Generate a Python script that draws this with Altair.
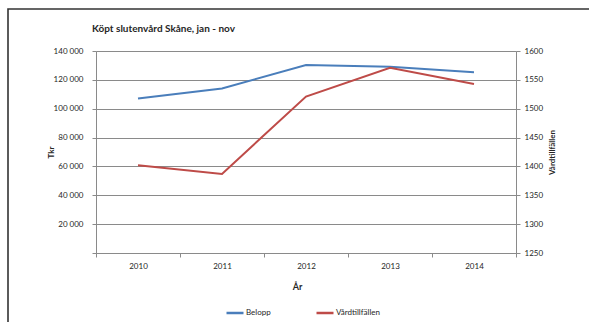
import altair as alt
import pandas as pd

# Köpt slutenvård Skåne, jan - nov: cost (Tkr) and number of care episodes per year
years = ["2010", "2011", "2012", "2013", "2014"]
belopp = [107000, 114000, 130300, 129100, 125200]
vardtillfallen = [1402, 1387, 1521, 1571, 1543]

series_names = ["Belopp", "Vårdtillfällen"]
series_colors = ["#4A7EBB", "#BE4B48"]

left_ticks = [0, 20000, 40000, 60000, 80000, 100000, 120000, 140000]
right_ticks = [1250, 1300, 1350, 1400, 1450, 1500, 1550, 1600]

df_belopp = pd.DataFrame({"År": years, "värde": belopp, "serie": series_names[0]})
df_vard = pd.DataFrame({"År": years, "värde": vardtillfallen, "serie": series_names[1]})

FONT = "Lato"
GRID = "#8A8A8A"
TEXT = "#262626"

color = alt.Color(
    "serie:N",
    scale=alt.Scale(domain=series_names, range=series_colors),
    legend=alt.Legend(
        title=None,
        orient="none",
        direction="horizontal",
        legendX=129,
        legendY=252,
        symbolType="stroke",
        symbolSize=289,
        symbolStrokeWidth=2.5,
        labelOffset=1,
        columnPadding=40,
        labelFont=FONT,
        labelFontSize=8,
        labelColor=TEXT,
    ),
)

x_enc = alt.X(
    "År:O",
    sort=years,
    scale=alt.Scale(type="band", paddingInner=0, paddingOuter=0),
    axis=alt.Axis(
        title="År",
        titleFont=FONT,
        titleFontSize=9,
        titleFontWeight="bold",
        titleColor=TEXT,
        titleX=201,
        titleY=33,
        titleAlign="center",
        titleBaseline="middle",
        labelAngle=0,
        labelFont=FONT,
        labelFontSize=8,
        labelColor=TEXT,
        labelPadding=5,
        tickBand="extent",
        tickSize=4,
        tickColor=GRID,
        domainColor=GRID,
        grid=False,
    ),
)

line_belopp = alt.Chart(df_belopp).mark_line(strokeWidth=2).encode(
    x=x_enc,
    y=alt.Y(
        "värde:Q",
        scale=alt.Scale(domain=[0, 140000], nice=False, zero=True),
        axis=alt.Axis(
            title="Tkr",
            titleFont=FONT,
            titleFontSize=8,
            titleFontWeight="bold",
            titleColor=TEXT,
            titleAngle=270,
            titleX=-45,
            titleY=101,
            titleAlign="center",
            titleBaseline="middle",
            values=left_ticks,
            labelExpr="datum.value == 0 ? '' : replace(format(datum.value, ',d'), ',', ' ')",
            labelFont=FONT,
            labelFontSize=8,
            labelColor=TEXT,
            labelPadding=9,
            tickSize=4,
            tickColor=GRID,
            domainColor=GRID,
            grid=True,
            gridColor=GRID,
            gridWidth=1,
        ),
    ),
    color=color,
)

line_vard = alt.Chart(df_vard).mark_line(strokeWidth=2).encode(
    x=x_enc,
    y=alt.Y(
        "värde:Q",
        scale=alt.Scale(domain=[1250, 1600], nice=False, zero=False),
        axis=alt.Axis(
            orient="right",
            title="Vårdtillfällen",
            titleFont=FONT,
            titleFontSize=8,
            titleFontWeight="bold",
            titleColor=TEXT,
            titleAngle=270,
            titleX=36,
            titleY=101,
            titleAlign="center",
            titleBaseline="middle",
            values=right_ticks,
            format="d",
            labelFont=FONT,
            labelFontSize=8,
            labelColor=TEXT,
            labelPadding=4,
            tickSize=4,
            tickColor=GRID,
            domainColor=GRID,
            grid=False,
        ),
    ),
    color=color,
)

# outer chart frame (top and left edges visible)
frame = alt.Chart(alt.Data(values=[{}])).mark_rect(
    fill=None, stroke="#333333", strokeWidth=1.6
).encode(
    x=alt.value(-88),
    y=alt.value(-42),
    x2=alt.value(560),
    y2=alt.value(320),
)

chart = (
    alt.layer(frame, line_belopp, line_vard)
    .resolve_scale(y="independent")
    .properties(
        width=420,
        height=202,
        autosize=alt.AutoSizeParams(type="none"),
        padding={"left": 96, "top": 51, "right": 73, "bottom": 69},
        title=alt.TitleParams(
            text="Köpt slutenvård Skåne, jan - nov",
            anchor="start",
            frame="group",
            font=FONT,
            fontSize=10,
            fontWeight="bold",
            color=TEXT,
            baseline="alphabetic",
            offset=0,
            dy=34,
            dx=-4,
        ),
    )
    .configure_view(stroke=None)
    .configure(background="white")
)

chart.save("out.html", embed_options={"renderer": "svg", "actions": False})
